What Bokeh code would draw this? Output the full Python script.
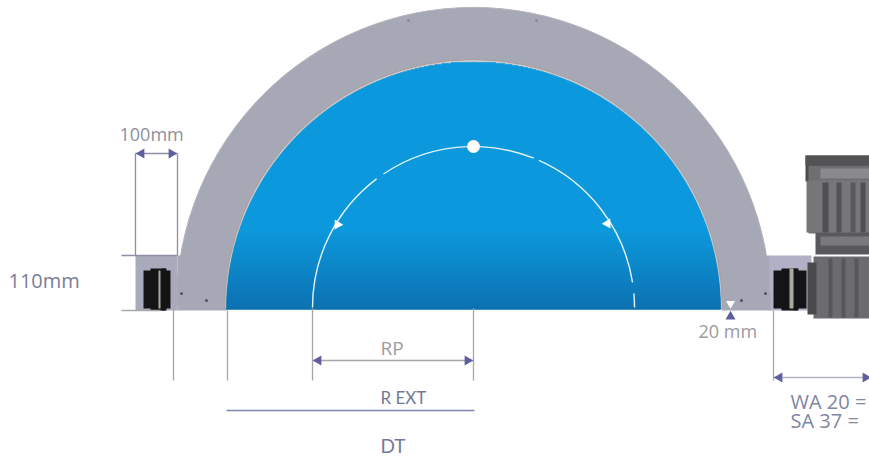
import numpy as np
from bokeh.plotting import figure
from bokeh.embed import file_html
from bokeh.resources import INLINE
from bokeh.core.properties import value

H = 459
def Y(r):
    return H - np.asarray(r, dtype=float)

# Arch geometry (picture pixels)
centre_x = 473
arch_centre_y = 304
arch_outer_r = 297
blue_centre_y = 308
blue_r = 247
rim_r = 249
path_centre_y = 307
path_r = 161
path_start = [0, 9, 68, 92, 127]
path_end = [5, 66, 88, 124, 180]

# Flanges and couplings: left, right, top, bottom, colour
box_l = [177, 721, 135, 769, 177, 721, 143, 150, 161, 158, 773, 781, 793, 789]
box_r = [226, 770, 177, 811, 226, 770, 170, 166, 165, 160, 806, 798, 796, 793]
box_t = [255, 255, 255, 255, 292, 292, 270, 268, 268, 270, 270, 268, 268, 268]
box_b = [308, 308, 310, 310, 310, 310, 308, 310, 310, 308, 308, 310, 310, 308]
box_c = ["#a7a8b6", "#a7a8b6", "#a9aabb", "#b2b0c6", "#a7a8b6", "#a7a8b6",
         "#141416", "#141416", "#141416", "#a9a9a0", "#141416", "#141416", "#141416", "#a9a9a0"]

# Motor blocks
motor_l = [805, 808, 815, 813, 806, 822, 836, 850, 860, 820, 807, 820, 805]
motor_r = [869, 869, 869, 869, 869, 828, 841, 855, 865, 869, 816, 869, 869]
motor_t = [155, 165, 232, 256, 180, 182, 182, 182, 182, 236, 262, 168, 155]
motor_b = [181, 233, 254, 318, 232, 232, 232, 232, 232, 245, 314, 178, 165]
motor_c = ["#4d4d4f", "#6f6f71", "#59595b", "#6c6c6e", "#77777a", "#505052", "#535355",
           "#59595b", "#505052", "#7a7a7c", "#4a4a4c", "#8a8a8c", "#535355"]
stripe_l = [828, 841, 854]
stripe_r = [832, 845, 858]
stripe_t = [258, 258, 258]
stripe_b = [317, 317, 317]

# Dimension lines: x0, y0, x1, y1
dim_x0 = [135, 177, 121, 121, 135, 173, 227, 312, 473, 312, 773, 773, 226]
dim_y0 = [153, 153, 255, 310, 153, 308, 310, 308, 308, 360, 310, 377, 410]
dim_x1 = [135, 177, 177, 160, 177, 173, 227, 312, 473, 473, 773, 869, 474]
dim_y1 = [255, 255, 255, 310, 153, 380, 380, 380, 380, 360, 380, 377, 410]
dim_c = ["#8e8ea6", "#8e8ea6", "#8e8ea6", "#a8a8a8", "#8e8ea6", "#a6a6a6", "#a6a6a6",
         "#a6a6a6", "#a6a6a6", "#a6a6a6", "#a6a6a6", "#b0b4c4", "#7f86ad"]

# Arrowheads
arrow_x = [141, 171, 318, 467, 779, 865, 730]
arrow_y = [153, 153, 360, 360, 377, 377, 316]
arrow_deg = [90, -90, 90, -90, 90, -90, 0]

# Small rivets
dot_x = [181, 206, 741, 765, 408, 536]
dot_y = [293, 300, 300, 293, 20, 20]
dot_c = ["#55555f", "#55555f", "#55555f", "#55555f", "#8c8c9a", "#8c8c9a"]

# Labels
label_text = ["110mm", "100mm", "RP", "R EXT", "DT", "20 mm", "WA 20 =", "SA 37 ="]
label_x = [8, 119, 380, 380, 380, 698, 790, 790]
label_y = [280, 133, 347, 397, 445, 330, 401, 420]
label_c = ["#7a8098", "#8f8f98", "#9c9ca2", "#74799a", "#74799a", "#9a9aa0", "#7f86a4", "#7f86a4"]
label_f = ["Open Sans", "Open Sans", "Open Sans", "Lato", "Lato",
           "Open Sans", "Open Sans", "Open Sans"]
label_s = ["20px", "18px", "19px", "17px", "19px", "18px", "20px", "20px"]

p = figure(width=869, height=459, x_range=(0, 869), y_range=(0, 459),
           output_backend="svg", toolbar_location=None, min_border=0, outline_line_color=None)
p.axis.visible = False
p.grid.visible = False
p.background_fill_color = "white"
p.border_fill_color = "white"

# Arch
p.annular_wedge(x=centre_x, y=Y(arch_centre_y), inner_radius=0, outer_radius=arch_outer_r,
                start_angle=0, end_angle=np.pi, fill_color="#a7a8b6", line_color="#b6b3bb", line_width=1)
p.quad(left=box_l[:6], right=box_r[:6], top=Y(box_t[:6]), bottom=Y(box_b[:6]), fill_color=box_c[:6], line_color=None)
p.wedge(x=centre_x, y=Y(blue_centre_y), radius=rim_r, start_angle=0, end_angle=np.pi,
        fill_color="#c4cbd3", line_color="#b09a95", line_width=1)

# Blue gradient, one row per picture pixel
rows = np.arange(blue_centre_y - blue_r, blue_centre_y + 1)
half = np.sqrt(np.maximum(blue_r ** 2 - (blue_centre_y - rows) ** 2, 0))
t = np.clip((rows - 230) / (308 - 230), 0, 1)
r0, g0, b0 = 0, 149, 220
r1, g1, b1 = 0, 109, 176
cols = ["#%02x%02x%02x" % (int(r0 + (r1 - r0) * a), int(g0 + (g1 - g0) * a), int(b0 + (b1 - b0) * a)) for a in t]
p.quad(left=centre_x - half, right=centre_x + half, top=Y(rows), bottom=Y(rows + 1),
       fill_color=cols, line_color=cols, line_width=0.5)

# Couplings
p.quad(left=box_l[6:], right=box_r[6:], top=Y(box_t[6:]), bottom=Y(box_b[6:]), fill_color=box_c[6:], line_color=None)
# Motor
p.quad(left=motor_l, right=motor_r, top=Y(motor_t), bottom=Y(motor_b), fill_color=motor_c, line_color=None)
p.quad(left=stripe_l, right=stripe_r, top=Y(stripe_t), bottom=Y(stripe_b), fill_color="#57575a", line_color=None)

# Dimensions
p.segment(x0=dim_x0, y0=Y(dim_y0), x1=dim_x1, y1=Y(dim_y1), line_color=dim_c, line_width=1.3)
p.scatter(x=arrow_x, y=Y(arrow_y), marker="triangle", size=10, angle=np.radians(arrow_deg),
          fill_color="#5f5f9f", line_color=None)
p.scatter(x=[730], y=Y([303]), marker="inverted_triangle", size=9, fill_color="white", line_color=None)
p.scatter(x=dot_x, y=Y(dot_y), marker="circle", size=3, fill_color=dot_c, line_color=None)

# Path
p.arc(x=centre_x, y=Y(path_centre_y), radius=path_r, start_angle=np.radians(path_start),
      end_angle=np.radians(path_end), line_color="#e4f3fb", line_width=1.4)
p.scatter(x=[473], y=Y([146]), marker="circle", size=13, fill_color="white", line_color=None)
p.scatter(x=[337, 607], y=Y([224, 223]), marker="triangle", size=10,
          angle=np.radians([148, -148]), fill_color="white", line_color=None)

# Labels
for tx, x, y, c, f, s in zip(label_text, label_x, label_y, label_c, label_f, label_s):
    p.text(x=[x], y=Y([y]), text=[tx], text_color=c, text_font=value(f), text_font_size=s,
           text_baseline="middle", text_align="left")
p.quad(left=[100], right=[121], top=Y([120]), bottom=Y([146]), fill_color="white", line_color=None)

open("out.html", "w").write(file_html(p, INLINE))
